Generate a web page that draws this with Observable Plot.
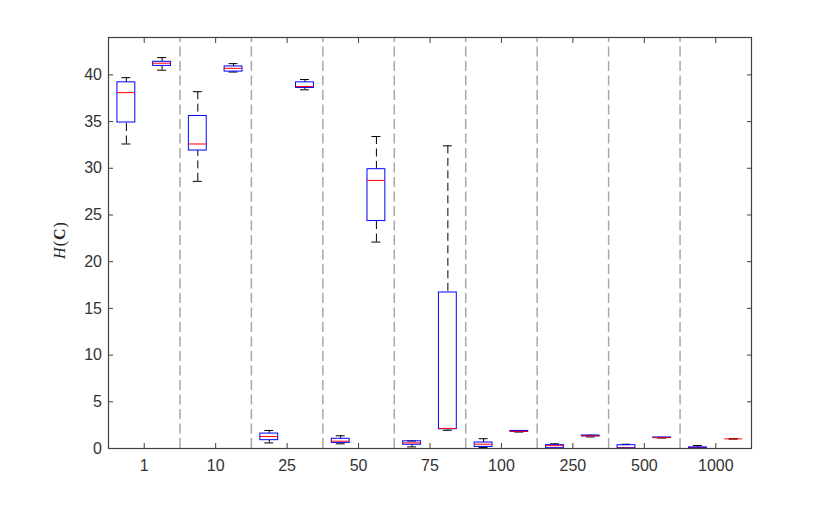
<!DOCTYPE html>
<html><head><meta charset="utf-8">
<script src="https://cdn.jsdelivr.net/npm/d3@7"></script>
<script src="https://cdn.jsdelivr.net/npm/@observablehq/plot@0.6"></script>
<style>html,body{margin:0;padding:0;background:#fff} svg{display:block}</style>
</head><body><div id="chart"></div>
<script>
// group labels (x tick labels)
const groups = ["1", "10", "25", "50", "75", "100", "250", "500", "1000"];
const yTicks = [0, 5, 10, 15, 20, 25, 30, 35, 40];

// left box of each group: lower whisker, Q1, median, Q3, upper whisker
const aLow  = [32.6, 28.6, 0.60, 0.50, 0.17, 0.10, 0.02, 0.02, 0.01];
const aQ1   = [34.9, 31.9, 0.89, 0.60, 0.40, 0.17, 0.03, 0.03, 0.02];
const aMed  = [38.1, 32.6, 1.28, 0.78, 0.60, 0.46, 0.30, 0.05, 0.04];
const aQ3   = [39.2, 35.6, 1.60, 1.04, 0.77, 0.64, 0.36, 0.35, 0.12];
const aHigh = [39.7, 38.2, 1.93, 1.36, 0.80, 1.05, 0.50, 0.45, 0.32];

// right box of each group
const bLow  = [40.5, 40.3, 38.4, 22.1, 1.95, 1.76, 1.24, 1.12, 1.03];
const bQ1   = [40.96, 40.35, 38.6, 24.35, 2.06, 1.78, 1.30, 1.13, 1.03];
const bMed  = [41.25, 40.7, 38.75, 28.7, 2.15, 1.84, 1.36, 1.16, 1.03];
const bQ3   = [41.4, 40.9, 39.2, 29.9, 16.7, 1.88, 1.39, 1.18, 1.03];
const bHigh = [41.85, 41.2, 39.5, 33.4, 32.4, 1.90, 1.41, 1.19, 1.03];

const rows = groups.flatMap((g, i) => [
  {group: g, pos: i + 1 - 0.25, low: aLow[i], q1: aQ1[i], med: aMed[i], q3: aQ3[i], high: aHigh[i]},
  {group: g, pos: i + 1 + 0.25, low: bLow[i], q1: bQ1[i], med: bMed[i], q3: bQ3[i], high: bHigh[i]}
]);
const groupPos = groups.map((g, i) => i + 1);
const separators = groups.slice(1).map((g, i) => i + 1.5);

const halfBox = 0.125, halfCap = 0.0625;
const axisColor = "#262626";

const chart = Plot.plot({
  width: 831,
  height: 505,
  marginLeft: 108,
  marginRight: 80,
  marginTop: 37,
  marginBottom: 57,
  style: {fontFamily: "'Liberation Sans', Arial, sans-serif", fontSize: "16px", color: axisColor, background: "#fff"},
  x: {type: "linear", domain: [0.5, groups.length + 0.5]},
  y: {domain: [0, 44]},
  marks: [
    Plot.ruleX(separators, {x: d => d, y1: 0, y2: 44, stroke: "#a8a8a8", strokeWidth: 1.5, strokeDasharray: "10,4.5"}),
    Plot.ruleX(rows, {x: "pos", y1: "high", y2: "q3", stroke: "#000", strokeDasharray: "8,4.5"}),
    Plot.ruleX(rows, {x: "pos", y1: "low", y2: "q1", stroke: "#000", strokeDasharray: "8,4.5"}),
    Plot.ruleY(rows, {y: "high", x1: d => d.pos - halfCap, x2: d => d.pos + halfCap, stroke: "#000"}),
    Plot.ruleY(rows, {y: "low", x1: d => d.pos - halfCap, x2: d => d.pos + halfCap, stroke: "#000"}),
    Plot.rect(rows, {x1: d => d.pos - halfBox, x2: d => d.pos + halfBox, y1: "q1", y2: "q3", fill: "none", stroke: "#0000ff", strokeWidth: 1}),
    Plot.ruleY(rows, {y: "med", x1: d => d.pos - halfBox, x2: d => d.pos + halfBox, stroke: "#ff0000"}),
    Plot.frame({stroke: "#404040", strokeWidth: 1.2}),
    Plot.axisX({ticks: groupPos, tickFormat: d => groups[d - 1], tickSize: 0, tickPadding: 11, label: null, fontSize: 16, fill: "#333"}),
    Plot.axisX({ticks: groupPos, tickFormat: () => "", tickSize: -5, label: null, stroke: "#404040"}),
    Plot.axisX({anchor: "top", ticks: groupPos, tickFormat: () => "", tickSize: -5, label: null, stroke: "#404040"}),
    Plot.axisY({ticks: yTicks, tickSize: 0, tickPadding: 6.5, label: null, fontSize: 16, fill: "#333"}),
    Plot.axisY({ticks: yTicks, tickFormat: () => "", tickSize: -5, label: null, stroke: "#404040"}),
    Plot.axisY({anchor: "right", ticks: yTicks, tickFormat: () => "", tickSize: -5, label: null, stroke: "#404040"})
  ]
});
document.getElementById("chart").appendChild(chart);

// y-axis title H(C) with italic H and bold C
const title = d3.select(chart).append("text")
  .attr("transform", "translate(65,240) rotate(-90)")
  .attr("text-anchor", "middle")
  .attr("fill", axisColor)
  .style("font-family", "'Liberation Serif', 'Times New Roman', serif")
  .style("font-size", "16px")
  .style("letter-spacing", "1px");
title.append("tspan").style("font-style", "italic").text("H");
title.append("tspan").text("(");
title.append("tspan").style("font-weight", "bold").text("C");
title.append("tspan").text(")");
</script>
</body></html>
